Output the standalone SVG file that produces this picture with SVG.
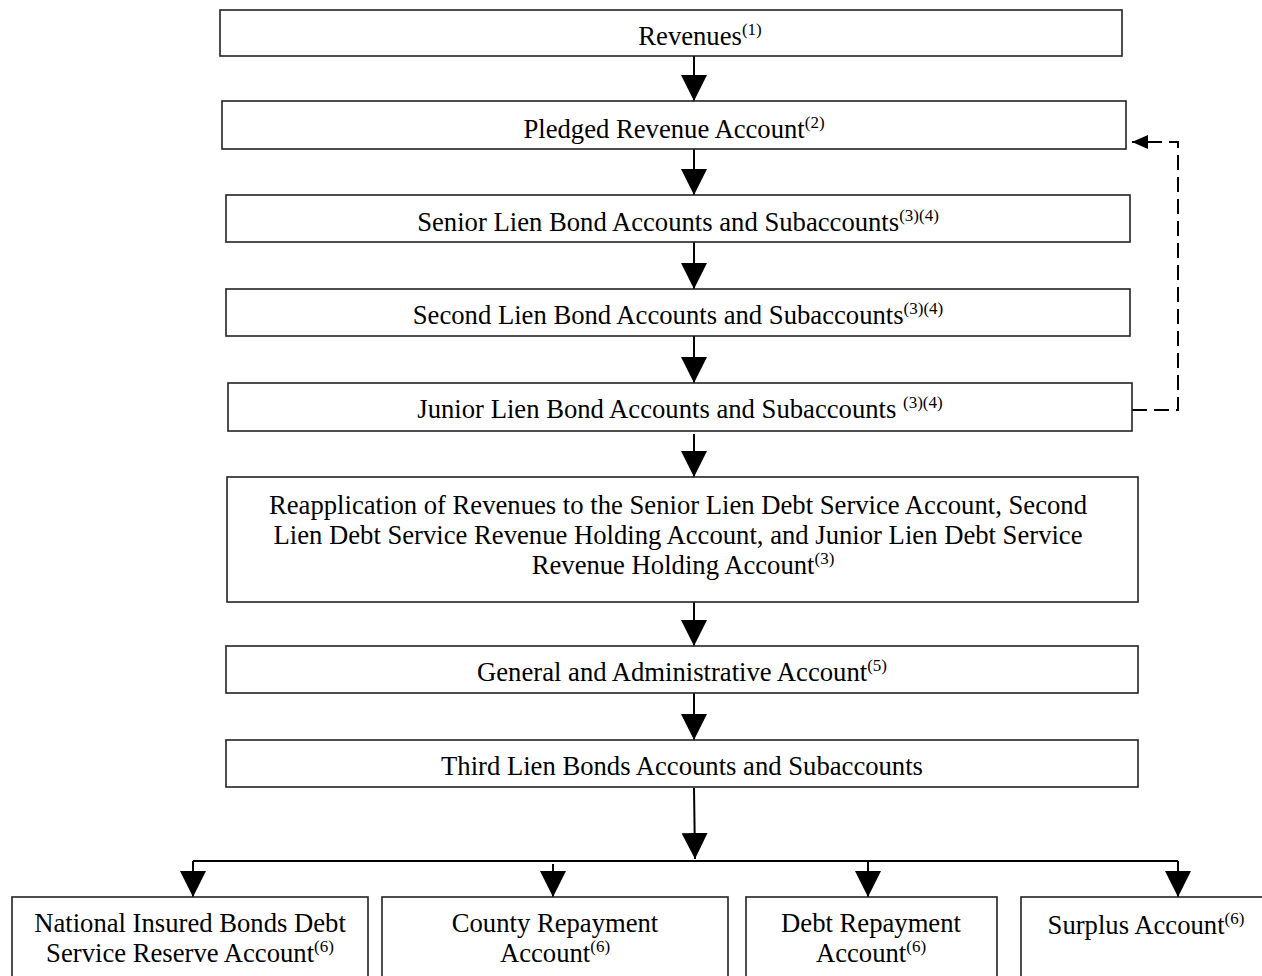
<svg xmlns="http://www.w3.org/2000/svg" width="1262" height="976" viewBox="0 0 1262 976">
<style>
.box{fill:#fff;stroke:#222;stroke-width:1.6}
.t{font-family:"Liberation Serif","Times New Roman",serif;font-size:26.67px;fill:#000;text-anchor:middle}
.sup{font-size:17px}
.ln{fill:none;stroke:#000;stroke-width:2}
.dash{fill:none;stroke:#000;stroke-width:2;stroke-dasharray:15 7}
</style>
<defs>
<marker id="ah" viewBox="0 0 26 26" refX="26" refY="13" markerWidth="26" markerHeight="26" markerUnits="userSpaceOnUse" orient="auto"><path d="M0,0 L26,13 L0,26 z" fill="#000"/></marker>
<marker id="ahs" viewBox="0 0 16 14" refX="16" refY="7" markerWidth="16" markerHeight="14" markerUnits="userSpaceOnUse" orient="auto"><path d="M0,0 L16,7 L0,14 z" fill="#000"/></marker>
</defs>
<rect x="0" y="0" width="1262" height="976" fill="#fff"/>

<g id="connectors">
<path class="ln" d="M694,56 V101" marker-end="url(#ah)"/>
<path class="ln" d="M694,149 V195" marker-end="url(#ah)"/>
<path class="ln" d="M694,242 V289" marker-end="url(#ah)"/>
<path class="ln" d="M694,336 V383" marker-end="url(#ah)"/>
<path class="ln" d="M694,434 V477" marker-end="url(#ah)"/>
<path class="ln" d="M694,602 V646" marker-end="url(#ah)"/>
<path class="ln" d="M694,693 V740" marker-end="url(#ah)"/>
<path class="ln" d="M694,788 L695,859" marker-end="url(#ah)"/>
<path class="ln" d="M193,861 H1178"/>
<path class="ln" d="M193,861 V897" marker-end="url(#ah)"/>
<path class="ln" d="M553,864 V897" marker-end="url(#ah)"/>
<path class="ln" d="M868,861 V897" marker-end="url(#ah)"/>
<path class="ln" d="M1178,861 V897" marker-end="url(#ah)"/>
<path class="dash" d="M1132,410 H1178 V142 H1132" marker-end="url(#ahs)"/>
</g>

<g id="revenues">
<rect class="box" x="220" y="10" width="902" height="46"/>
<text class="t" x="700" y="45">Revenues<tspan class="sup" dy="-10">(1)</tspan></text>
</g>
<g id="pledged">
<rect class="box" x="222" y="101" width="904" height="48"/>
<text class="t" x="674" y="138">Pledged Revenue Account<tspan class="sup" dy="-10">(2)</tspan></text>
</g>
<g id="senior">
<rect class="box" x="226" y="195" width="904" height="47"/>
<text class="t" x="678" y="231">Senior Lien Bond Accounts and Subaccounts<tspan class="sup" dy="-10">(3)(4)</tspan></text>
</g>
<g id="second">
<rect class="box" x="226" y="289" width="904" height="47"/>
<text class="t" x="678" y="324">Second Lien Bond Accounts and Subaccounts<tspan class="sup" dy="-10">(3)(4)</tspan></text>
</g>
<g id="junior">
<rect class="box" x="228" y="383" width="904" height="48"/>
<text class="t" x="680" y="418">Junior Lien Bond Accounts and Subaccounts <tspan class="sup" dy="-10">(3)(4)</tspan></text>
</g>
<g id="reapplication">
<rect class="box" x="227" y="477" width="911" height="125"/>
<text class="t" x="678" y="514">Reapplication of Revenues to the Senior Lien Debt Service Account, Second</text>
<text class="t" x="678" y="544">Lien Debt Service Revenue Holding Account, and Junior Lien Debt Service</text>
<text class="t" x="683" y="574">Revenue Holding Account<tspan class="sup" dy="-10">(3)</tspan></text>
</g>
<g id="general">
<rect class="box" x="226" y="646" width="912" height="47"/>
<text class="t" x="682" y="681">General and Administrative Account<tspan class="sup" dy="-10">(5)</tspan></text>
</g>
<g id="third">
<rect class="box" x="226" y="740" width="912" height="47"/>
<text class="t" x="682" y="775">Third Lien Bonds Accounts and Subaccounts</text>
</g>
<g id="national">
<rect class="box" x="12" y="897" width="356" height="100"/>
<text class="t" x="190" y="932">National Insured Bonds Debt</text>
<text class="t" x="190" y="962">Service Reserve Account<tspan class="sup" dy="-10">(6)</tspan></text>
</g>
<g id="county">
<rect class="box" x="382" y="897" width="346" height="100"/>
<text class="t" x="555" y="932">County Repayment</text>
<text class="t" x="555" y="962">Account<tspan class="sup" dy="-10">(6)</tspan></text>
</g>
<g id="debt">
<rect class="box" x="746" y="897" width="251" height="100"/>
<text class="t" x="871" y="932">Debt Repayment</text>
<text class="t" x="871" y="962">Account<tspan class="sup" dy="-10">(6)</tspan></text>
</g>
<g id="surplus">
<rect class="box" x="1021" y="897" width="260" height="100"/>
<text class="t" x="1146" y="934">Surplus Account<tspan class="sup" dy="-10">(6)</tspan></text>
</g>
</svg>
